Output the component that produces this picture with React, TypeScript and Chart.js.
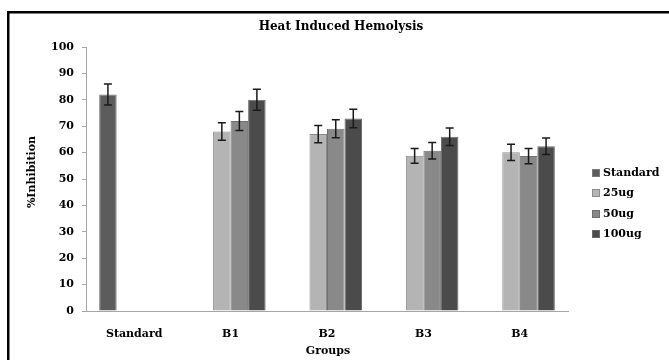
import React, { useEffect, useRef } from "react";
import { Chart, registerables } from "chart.js";

Chart.register(...registerables);

const categories = ["Standard", "B1", "B2", "B3", "B4"];
const seriesNames = ["Standard", "25ug", "50ug", "100ug"];
const standardValues = [82, null, null, null, null];
const standardErrors = [4, null, null, null, null];
const ug25Values = [null, 68, 67, 58.8, 60.1];
const ug25Errors = [null, 3.3, 3.3, 2.8, 3.1];
const ug50Values = [null, 72, 69, 60.7, 58.7];
const ug50Errors = [null, 3.6, 3.4, 3.1, 2.9];
const ug100Values = [null, 80, 72.9, 66, 62.4];
const ug100Errors = [null, 4, 3.5, 3.3, 3.1];
const yTickValues = [0, 10, 20, 30, 40, 50, 60, 70, 80, 90, 100];

const fillColors = ["#5c5c5c", "#b4b4b4", "#898989", "#4b4b4b"];
const borderColors = ["#7a7a7a", "#8c8c8c", "#707070", "#6a6a6a"];
const FONT = "'DejaVu Serif', serif";

const errorBarPlugin = {
  id: "errorBars",
  afterDatasetsDraw(chart: any) {
    const ctx = chart.ctx;
    const yScale = chart.scales.y;
    ctx.save();
    ctx.strokeStyle = "#1a1a1a";
    ctx.lineWidth = 1.5;
    chart.data.datasets.forEach((ds: any, di: number) => {
      const meta = chart.getDatasetMeta(di);
      ds.data.forEach((v: any, i: number) => {
        const err = ds.errors[i];
        if (v == null || err == null) return;
        const bar = meta.data[i];
        const x = bar.x;
        const yTop = yScale.getPixelForValue(v + err);
        const yBot = yScale.getPixelForValue(v - err);
        ctx.beginPath();
        ctx.moveTo(x, yTop);
        ctx.lineTo(x, yBot);
        ctx.moveTo(x - 4, yTop);
        ctx.lineTo(x + 4, yTop);
        ctx.moveTo(x - 4, yBot);
        ctx.lineTo(x + 4, yBot);
        ctx.stroke();
      });
    });
    ctx.restore();
  },
};

const decorPlugin = {
  id: "decor",
  afterDraw(chart: any) {
    const ctx = chart.ctx;
    ctx.save();
    // frame
    ctx.fillStyle = "#000";
    ctx.fillRect(7, 11, 669, 2.5);
    ctx.fillRect(7, 11, 2.5, 360);
    // title
    ctx.fillStyle = "#000";
    ctx.textAlign = "center";
    ctx.textBaseline = "middle";
    ctx.font = "bold 12px " + FONT;
    ctx.fillText("Heat Induced Hemolysis", 341, 27);
    // x title
    ctx.font = "bold 11px " + FONT;
    ctx.fillText("Groups", 328, 351);
    // y title
    ctx.save();
    ctx.translate(32, 172);
    ctx.rotate(-Math.PI / 2);
    ctx.fillText("%Inhibition", 0, 0);
    ctx.restore();
    // legend
    const ys = [173, 193, 214, 234];
    ctx.textAlign = "left";
    chart.data.datasets.forEach((ds: any, i: number) => {
      const y = ys[i];
      ctx.fillStyle = ds.backgroundColor;
      ctx.fillRect(592, y - 4, 8, 8);
      ctx.strokeStyle = ds.borderColor;
      ctx.lineWidth = 1;
      ctx.strokeRect(592.5, y - 3.5, 7, 7);
      ctx.fillStyle = "#000";
      ctx.fillText(ds.label, 603, y + 0.5);
    });
    ctx.restore();
  },
};

export default function App() {
  const ref = useRef<HTMLCanvasElement | null>(null);
  useEffect(() => {
    if (!ref.current) return;
    const valueSets = [standardValues, ug25Values, ug50Values, ug100Values];
    const errorSets = [standardErrors, ug25Errors, ug50Errors, ug100Errors];
    const chart = new Chart(ref.current, {
      type: "bar",
      data: {
        labels: categories,
        datasets: seriesNames.map((name, i) => ({
          label: name,
          data: valueSets[i],
          errors: errorSets[i],
          backgroundColor: fillColors[i],
          borderColor: borderColors[i],
          borderWidth: 1,
          categoryPercentage: 0.727,
          barPercentage: 1.0,
        })) as any,
      },
      options: {
        animation: false,
        responsive: false,
        layout: { padding: { left: 0, right: 101, top: 47, bottom: 0 } },
        plugins: {
          legend: { display: false },
          title: { display: false },
          tooltip: { enabled: false },
        },
        scales: {
          x: {
            grid: { display: false, drawTicks: false },
            border: { display: true, color: "#a6a6a6", width: 1 },
            ticks: {
              color: "#000",
              font: { family: FONT, size: 11, weight: "bold" },
              padding: 17,
              maxRotation: 0,
            },
            afterFit(scale: any) {
              scale.height = 49;
            },
          },
          y: {
            min: 0,
            max: 100,
            afterBuildTicks(scale: any) {
              scale.ticks = yTickValues.map((v) => ({ value: v }));
            },
            grid: {
              display: true,
              drawOnChartArea: false,
              drawTicks: true,
              tickLength: 4,
              color: "#a6a6a6",
            },
            border: { display: true, color: "#a6a6a6", width: 1 },
            ticks: {
              color: "#000",
              font: { family: FONT, size: 11, weight: "bold" },
              padding: 8,
            },
            afterFit(scale: any) {
              scale.width = 86;
            },
          },
        },
      },
      plugins: [errorBarPlugin, decorPlugin],
    } as any);
    return () => chart.destroy();
  }, []);
  return (
    <div style={{ position: "fixed", left: 0, top: 0, width: 669, height: 360, background: "#fff" }}>
      <canvas ref={ref} width={669} height={360} style={{ display: "block" }} />
    </div>
  );
}
